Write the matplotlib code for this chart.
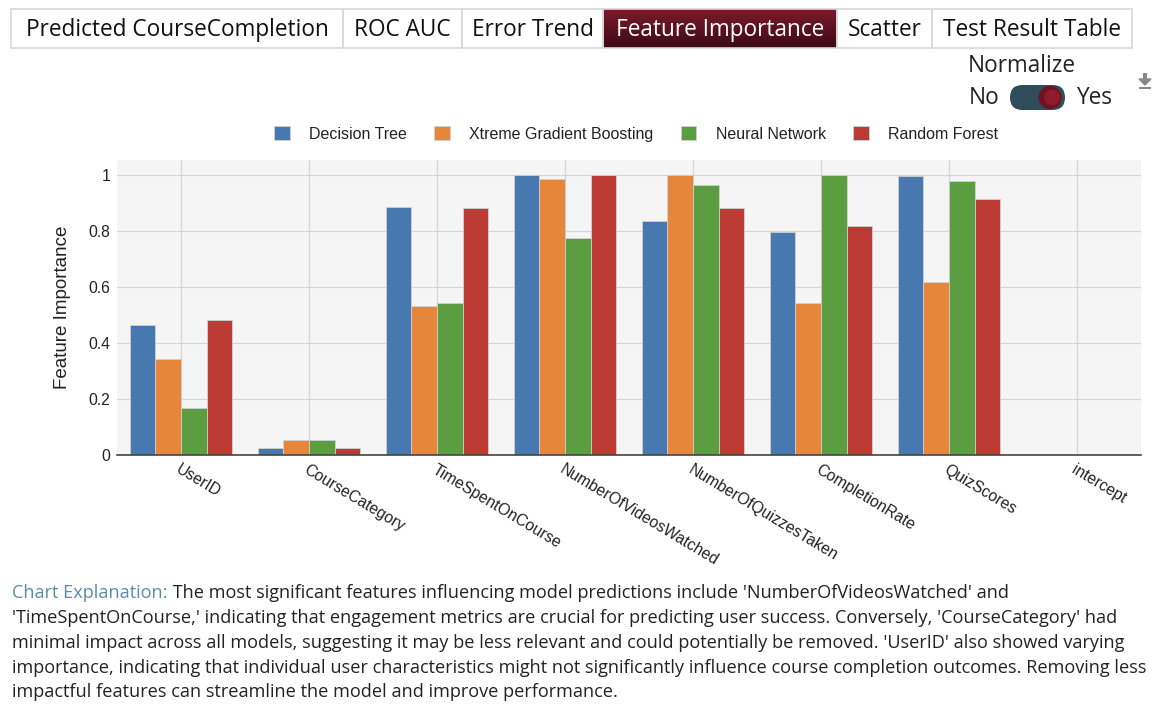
import matplotlib
matplotlib.use("Agg")
import matplotlib.pyplot as plt
import numpy as np
from matplotlib.patches import Rectangle, FancyBboxPatch, Circle
from matplotlib.colors import LinearSegmentedColormap

features = ["UserID", "CourseCategory", "TimeSpentOnCourse", "NumberOfVideosWatched",
            "NumberOfQuizzesTaken", "CompletionRate", "QuizScores", "intercept"]
models = ["Decision Tree", "Xtreme Gradient Boosting", "Neural Network", "Random Forest"]
decision_tree = [0.464, 0.024, 0.886, 1.0, 0.838, 0.797, 0.996, 0.0]
xgboost = [0.343, 0.052, 0.533, 0.987, 1.0, 0.545, 0.619, 0.0]
neural_network = [0.169, 0.052, 0.544, 0.777, 0.965, 1.0, 0.981, 0.0]
random_forest = [0.483, 0.024, 0.883, 1.0, 0.883, 0.818, 0.916, 0.0]
series = [decision_tree, xgboost, neural_network, random_forest]
colors = ["#4878B0", "#E5863A", "#5B9E41", "#BB3A33"]
yticks = [0, 0.2, 0.4, 0.6, 0.8, 1]
ytick_labels = ["0", "0.2", "0.4", "0.6", "0.8", "1"]
tabs = ["Predicted CourseCompletion", "ROC AUC", "Error Trend", "Feature Importance",
        "Scatter", "Test Result Table"]
active_tab = "Feature Importance"
explanation_label = "Chart Explanation:"
explanation_lines = [
    " The most significant features influencing model predictions include 'NumberOfVideosWatched' and",
    "'TimeSpentOnCourse,' indicating that engagement metrics are crucial for predicting user success. Conversely, 'CourseCategory' had",
    "minimal impact across all models, suggesting it may be less relevant and could potentially be removed. 'UserID' also showed varying",
    "importance, indicating that individual user characteristics might not significantly influence course completion outcomes. Removing less",
    "impactful features can streamline the model and improve performance.",
]

W, H = 1169, 715
fig = plt.figure(figsize=(W / 100, H / 100), dpi=100)
fig.patch.set_facecolor("white")

ui_font = ["Open Sans", "DejaVu Sans"]
chart_font = ["Liberation Sans", "DejaVu Sans"]

# main chart
L, R, T, B = 117, 1141, 160, 455
ax = fig.add_axes([L / W, 1 - B / H, (R - L) / W, (B - T) / H])
ax.set_facecolor("#F5F5F5")
x = np.arange(len(features))
bw = 0.2
for i, (vals, c, name) in enumerate(zip(series, colors, models)):
    ax.bar(x + (i - 1.5) * bw, vals, width=bw, color=c, edgecolor="#d0d0d0",
           linewidth=0.6, label=name, zorder=3)
ax.set_xlim(-0.5, len(features) - 0.5)
ax.set_ylim(0, 1.055)
ax.set_yticks(yticks)
ax.set_yticklabels(ytick_labels, fontfamily=chart_font, fontsize=11.3, color="#222")
ax.set_xticks(x)
ax.set_xticklabels(features, rotation=-31, ha="left", va="top", rotation_mode="anchor",
                   fontfamily=chart_font, fontsize=11.3, color="#222")
ax.tick_params(axis="y", length=0, pad=5)
ax.tick_params(axis="x", length=0, pad=5)
ax.grid(True, color="#D6D6D6", linewidth=0.9, zorder=0)
ax.set_axisbelow(True)
for s in ["top", "right", "left"]:
    ax.spines[s].set_visible(False)
ax.spines["bottom"].set_color("#444444")
ax.spines["bottom"].set_linewidth(1.2)
ax.spines["bottom"].set_zorder(4)
ax.set_ylabel("Feature Importance", fontfamily=chart_font, fontsize=13.5, color="#222", labelpad=12)

leg = ax.legend(loc="center", bbox_to_anchor=((636 - L) / (R - L), (B - 134) / (B - T)),
                ncol=4, frameon=False, handlelength=1.0, handleheight=1.0,
                handletextpad=1.2, columnspacing=1.7,
                prop={"family": chart_font, "size": 11.5})
for t in leg.get_texts():
    t.set_color("#222")

# overlay for UI elements
ov = fig.add_axes([0, 0, 1, 1], zorder=-1)
ov.axis("off")

edges = [11, 343, 462, 603, 837, 932, 1132]
top_, bot_ = 9, 48
grad = LinearSegmentedColormap.from_list("g", ["#7C1A2C", "#3C0B14"])
for i, name in enumerate(tabs):
    x0, x1 = edges[i], edges[i + 1]
    if name == active_tab:
        g = np.linspace(0, 1, 50).reshape(-1, 1)
        ov.imshow(g, cmap=grad, extent=[x0, x1, bot_, top_], aspect="auto", zorder=1)
        col = "white"
    else:
        col = "#111"
    ov.add_patch(Rectangle((x0, top_), x1 - x0, bot_ - top_, fill=False,
                           edgecolor="#D8D8D8", linewidth=1.2, zorder=2))
    ov.text((x0 + x1) / 2, (top_ + bot_) / 2 + 1, name, ha="center", va="center",
            fontfamily=ui_font, fontsize=16.3, color=col, zorder=3)
ov.set_xlim(0, W)
ov.set_ylim(H, 0)

ov.text(968, 66, "Normalize", ha="left", va="center", fontfamily=ui_font, fontsize=16.3, color="#222")
ov.text(969, 98, "No", ha="left", va="center", fontfamily=ui_font, fontsize=16.3, color="#222")
ov.text(1076, 98, "Yes", ha="left", va="center", fontfamily=ui_font, fontsize=16.3, color="#222")
ov.add_patch(FancyBboxPatch((1010, 85), 55, 25, boxstyle="round,pad=0,rounding_size=12.5",
                            facecolor="#2F4C5A", edgecolor="none", zorder=2))
ov.add_patch(Circle((1050, 97.5), 11.5, facecolor="#6E1220", edgecolor="none", zorder=3))
ov.add_patch(Circle((1052, 97.5), 8, facecolor="#8E1B2E", edgecolor="none", zorder=3))
# download icon
ov.add_patch(Rectangle((1143, 73), 4, 6, facecolor="#888", edgecolor="none"))
ov.fill([1139, 1151, 1145], [79, 79, 85], color="#888")
ov.add_patch(Rectangle((1139, 87), 12, 1.6, facecolor="#888", edgecolor="none"))

# explanation text
ys = [593, 618, 643, 668, 692]
fs = 13.1
lab = ov.text(12, ys[0], explanation_label, ha="left", va="center", fontfamily=ui_font,
              fontsize=fs, color="#5B8BA8")
fig.canvas.draw()
bb = lab.get_window_extent(fig.canvas.get_renderer())
x_after = bb.x1
for i, (line, yy) in enumerate(zip(explanation_lines, ys)):
    xx = x_after if i == 0 else 12
    ov.text(xx, yy, line, ha="left", va="center", fontfamily=ui_font,
            fontsize=fs, color="#222")

fig.savefig("out.png", dpi=100, facecolor="white")
